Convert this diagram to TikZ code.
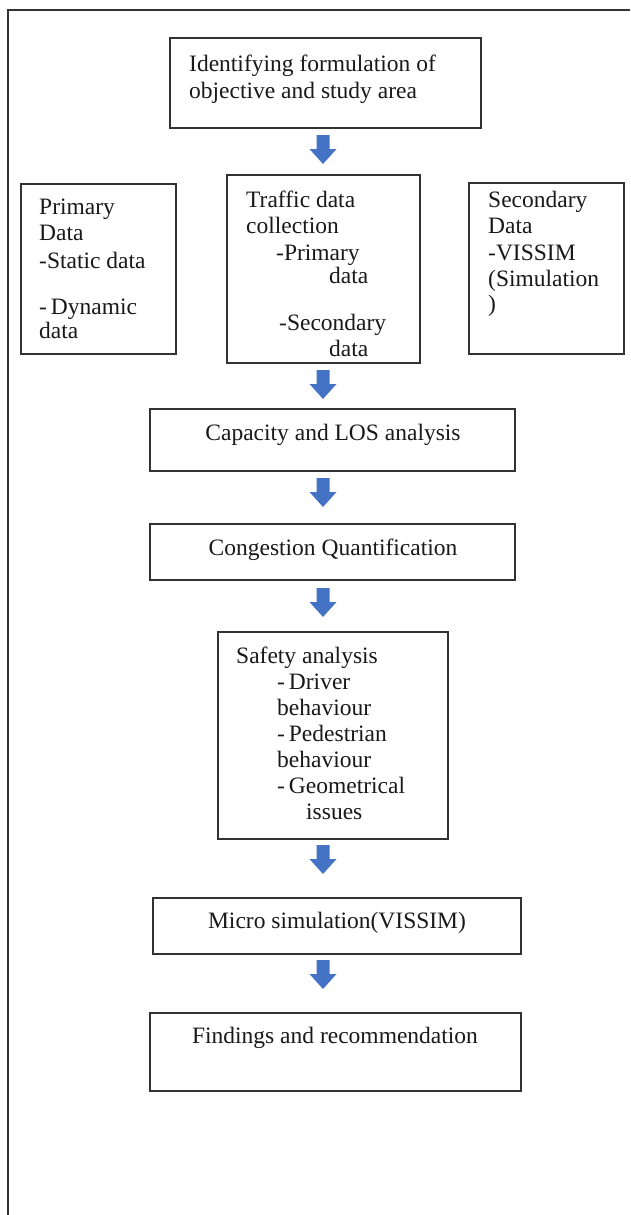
\documentclass[tikz,border=0pt]{standalone}
\usepackage{fontspec}
\setmainfont{Liberation Serif}
\definecolor{arrowblue}{RGB}{68,114,196}
\definecolor{boxline}{RGB}{50,50,50}
\definecolor{textgray}{RGB}{25,25,25}
\begin{document}
\begin{tikzpicture}[x=1pt,y=-1pt,
  box/.style={draw=boxline, line width=1.6pt, inner sep=0pt, fill=white, rectangle},
  frameline/.style={draw=boxline, line width=2pt},
  txt/.style={anchor=base west, inner sep=0pt, font=\fontsize{23.5}{26}\selectfont, text=textgray},
  ctxt/.style={anchor=base, inner sep=0pt, font=\fontsize{23.5}{26}\selectfont, text=textgray},
  blockarrow/.pic={\fill[arrowblue] (-6.5,0) -- (6.5,0) -- (6.5,14) -- (13.5,14) -- (0,29) -- (-13.5,14) -- (-6.5,14) -- cycle;}]
\useasboundingbox (0,0) rectangle (630,1215);
\fill[white] (0,0) rectangle (630,1215);
\draw[frameline] (8,1215) -- (8,10) -- (630,10);

% boxes
\node[box, minimum width=311pt, minimum height=90pt] (objective) at (325.5,83) {};
\node[box, minimum width=155pt, minimum height=170pt] (primary) at (98.5,269) {};
\node[box, minimum width=193pt, minimum height=188pt] (traffic) at (323.5,269) {};
\node[box, minimum width=155pt, minimum height=171pt] (secondary) at (546.5,268.5) {};
\node[box, minimum width=365pt, minimum height=62pt] (capacity) at (332.5,440) {};
\node[box, minimum width=365pt, minimum height=56pt] (congestion) at (332.5,552) {};
\node[box, minimum width=230pt, minimum height=207pt] (safety) at (333,735.5) {};
\node[box, minimum width=368pt, minimum height=56pt] (micro) at (337,926) {};
\node[box, minimum width=371pt, minimum height=78pt] (findings) at (335.5,1052) {};

% arrows
\coordinate (a1) at (323,135);
\coordinate (a2) at (323,370);
\coordinate (a3) at (323,478);
\coordinate (a4) at (323,588);
\coordinate (a5) at (323,845);
\coordinate (a6) at (323,960);
\foreach \a in {a1,a2,a3,a4,a5,a6} { \pic at (\a) {blockarrow}; }

% texts
\node[txt] (t1a) at (189,71) {Identifying formulation of};
\node[txt] (t1b) at (189,98) {objective and study area};

\node[txt] (p1) at (39,214) {Primary};
\node[txt] (p2) at (39,240) {Data};
\node[txt] (p3) at (39,268) {-Static data};
\node[txt] (p4) at (39,314) {-\,Dynamic};
\node[txt] (p5) at (39,338) {data};

\node[txt] (tr1) at (246,207) {Traffic data};
\node[txt] (tr2) at (246,233) {collection};
\node[txt] (tr3) at (276,260) {-Primary};
\node[txt] (tr4) at (329,283) {data};
\node[txt] (tr5) at (279,330) {-Secondary};
\node[txt] (tr6) at (329,356) {data};

\node[txt] (s1) at (488,207) {Secondary};
\node[txt] (s2) at (488,233) {Data};
\node[txt] (s3) at (488,260) {-VISSIM};
\node[txt] (s4) at (488,286) {(Simulation};
\node[txt] (s5) at (488,311) {)};

\node[ctxt] (ct) at (333,440) {Capacity and LOS analysis};
\node[ctxt] (cq) at (333,555) {Congestion Quantification};

\node[txt] (sa1) at (236,663) {Safety analysis};
\node[txt] (sa2) at (277,689) {-\,Driver};
\node[txt] (sa3) at (277,715) {behaviour};
\node[txt] (sa4) at (277,741) {-\,Pedestrian};
\node[txt] (sa5) at (277,767) {behaviour};
\node[txt] (sa6) at (277,793) {-\,Geometrical};
\node[txt] (sa7) at (306,819) {issues};

\node[ctxt] (mt) at (337,928) {Micro simulation(VISSIM)};
\node[ctxt] (ft) at (335,1043) {Findings and recommendation};
\end{tikzpicture}
\end{document}
